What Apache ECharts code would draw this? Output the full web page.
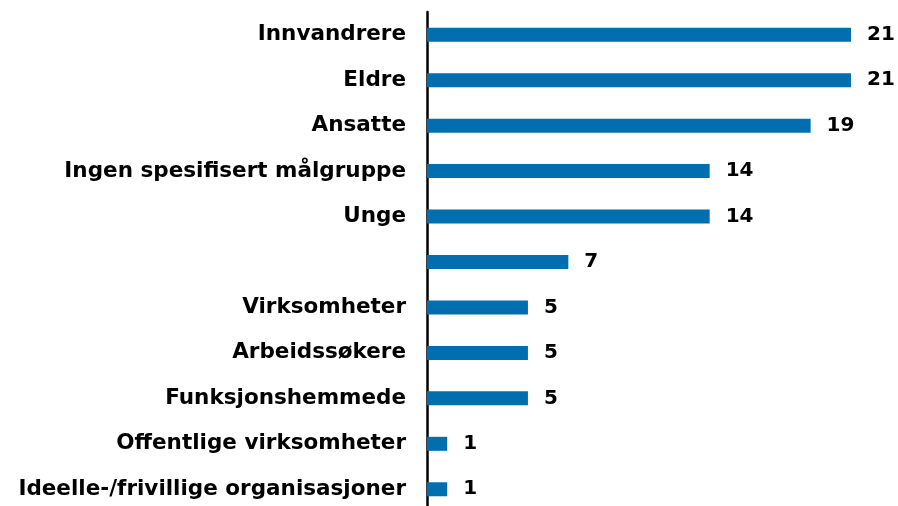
<!DOCTYPE html>
<html>
<head>
<meta charset="utf-8">
<script src="https://cdn.jsdelivr.net/npm/echarts@6/dist/echarts.min.js"></script>
<style>html,body{margin:0;padding:0;background:#fff;overflow:hidden;}#c{width:898px;height:512px;}</style>
</head>
<body>
<div id="c"></div>
<script>
const categories = ["Innvandrere","Eldre","Ansatte","Ingen spesifisert målgruppe","Unge","","Virksomheter","Arbeidssøkere","Funksjonshemmede","Offentlige virksomheter","Ideelle-/frivillige organisasjoner"];
const values = [21,21,19,14,14,7,5,5,5,1,1];

const chart = echarts.init(document.getElementById('c'));
chart.setOption({
  animation: false,
  grid: {left: 427, top: 12, right: 47, bottom: 0, containLabel: false},
  xAxis: {type: 'value', min: 0, max: 21, show: false},
  yAxis: {
    type: 'category', data: categories, inverse: true,
    axisLine: {show: true, lineStyle: {color: '#000', width: 2.5}},
    axisTick: {show: false},
    axisLabel: {margin: 21, color: '#000', fontFamily: 'DejaVu Sans', fontWeight: 'bold', fontSize: 21.5}
  },
  series: [{
    type: 'bar', data: values, barWidth: 14,
    itemStyle: {color: '#006EAF'},
    label: {show: true, position: 'right', distance: 16, color: '#000', fontFamily: 'DejaVu Sans', fontWeight: 'bold', fontSize: 20}
  }]
});
</script>
</body>
</html>
